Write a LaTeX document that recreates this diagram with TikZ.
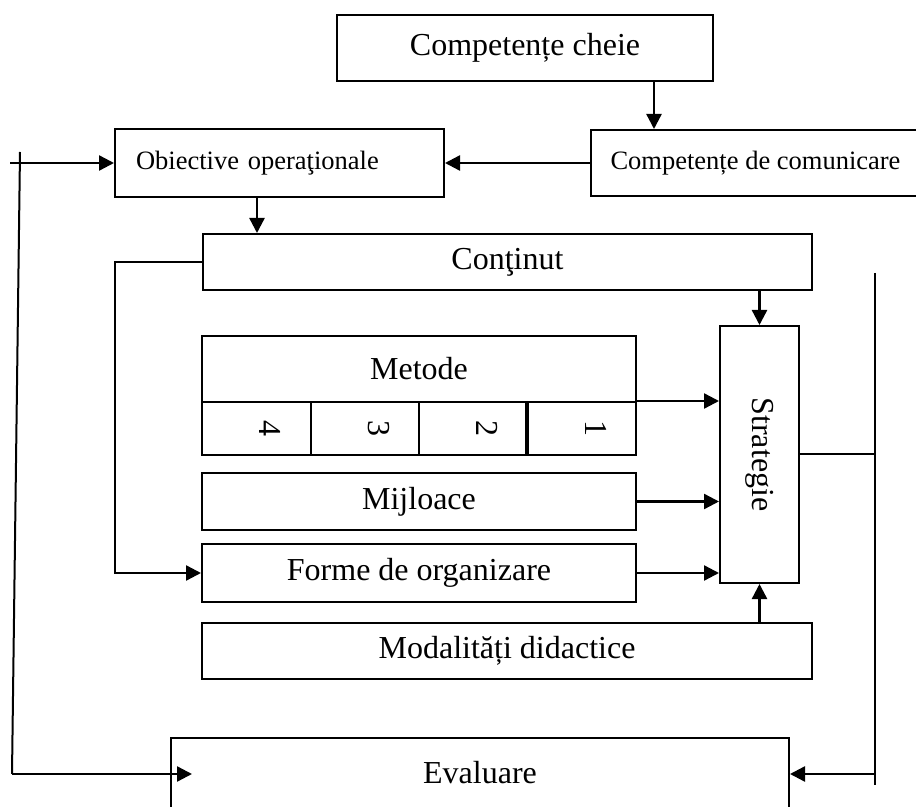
\documentclass[tikz,border=0pt]{standalone}
\usepackage{fontspec}
\setmainfont{Liberation Serif}
\usetikzlibrary{arrows.meta,positioning}
\tikzset{
  ar/.style={-{Triangle[length=7.5pt,width=7.5pt]},line width=1.2pt},
  ln/.style={line width=1pt},
  box/.style={draw,line width=1pt,inner sep=0pt,font=\fontsize{16pt}{19pt}\selectfont},
  sbox/.style={box,font=\fontsize{13.25pt}{16pt}\selectfont},
  cell/.style={box,minimum width=54.25pt,minimum height=26.5pt}
}

\begin{document}
\begin{tikzpicture}[x=0.5pt,y=-0.5pt]
\clip (0,0) rectangle (916,807);
% top row
\node[box,minimum width=188pt,minimum height=33pt] (cheie) at (525,48) {Competențe cheie};
\node[sbox,minimum width=164.5pt,minimum height=33pt] (comm) at (755.5,163) {Competențe de comunicare};
\node[sbox,minimum width=164.5pt,minimum height=34pt,inner xsep=10.5pt,text width=143.5pt,align=left] (obiect) at (279.5,163) {Obiective operaţionale};
% middle block
\node[box,minimum width=304.5pt,minimum height=28pt] (cont) at (507.5,262) {Conţinut};
\node[box,minimum width=217pt,minimum height=33pt] (metode) at (419,369) {Metode};
\foreach \d [count=\i] in {4,3,2,1}
  \node[cell] (c\d) at (202+108.5*\i-54.25,428.5) {\hspace*{14pt}\rotatebox{-90}{\d}};
\draw[line width=1.8pt] (c1.north west) -- (c1.south west);
\node[box,minimum width=217pt,minimum height=28.5pt] (mij) at (419,501.5) {Mijloace};
\node[box,minimum width=217pt,minimum height=29pt] (forme) at (419,573) {Forme de organizare};
\node[box,minimum width=305pt,minimum height=28pt] (modal) at (507,651) {Modalități didactice};
\node[box,minimum width=39.5pt,minimum height=128.5pt] (strat) at (759.5,454.5) {\rotatebox{-90}{Strategie}};
\node[box,minimum width=309pt,minimum height=35pt] (eval) at (480,773) {Evaluare};
% connectors
\draw[ar] ([xshift=64.5pt]cheie.south) -- ([xshift=64.5pt]cheie.south |- comm.north);
\draw[ar] (comm.west) -- (obiect.east);
\draw[ar] ([xshift=-11.25pt]obiect.south) -- ([xshift=-11.25pt]obiect.south |- cont.north);
\draw[ar] (strat.north |- cont.south) -- (strat.north);
\draw[ar] (c1.north east) -- (c1.north east -| strat.west);
\draw[ar] (mij.east) -- (mij.east -| strat.west);
\draw[ar] (forme.east) -- (forme.east -| strat.west);
\draw[ar] (strat.south |- modal.north) -- (strat.south);
\draw[ar] (cont.west) -- ++(-43.5pt,0) |- (forme.west);
% feedback loops
\coordinate (ltop) at (20,152);
\coordinate (lbot) at (12,774);
\coordinate (rtop) at (875,273);
\coordinate (rbot) at (875,785);
\draw[ln] (ltop) -- (lbot);
\draw[ar] (10,163) -- (obiect.west);
\draw[ar] (lbot) -- ([xshift=11pt]eval.west |- lbot);
\draw[ln] (rtop) -- (rbot);
\draw[ln] (strat.east) -- (strat.east -| rtop);
\draw[ar] (rtop |- lbot) -- (eval.east |- lbot);
\end{tikzpicture}
\end{document}
